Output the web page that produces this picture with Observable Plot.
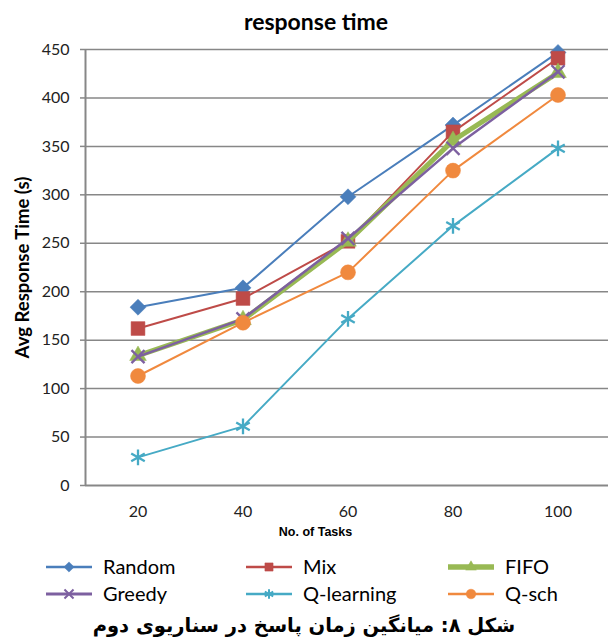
<!DOCTYPE html>
<html><head><meta charset="utf-8">
<script src="https://cdn.jsdelivr.net/npm/d3@7"></script>
<script src="https://cdn.jsdelivr.net/npm/@observablehq/plot@0.6"></script>
<style>
body{margin:0;background:#fff;}
#wrap{position:relative;width:608px;height:639px;overflow:hidden;font-family:Lato,"Open Sans",sans-serif;color:#000;}
#title{position:absolute;top:6px;left:0;width:632px;text-align:center;font-weight:bold;font-size:23px;line-height:30px;}
#chart{position:absolute;top:36px;left:0;}
.leg{position:absolute;font-size:20px;line-height:27px;height:27px;display:flex;align-items:center;white-space:nowrap;}
.leg svg{margin-right:11px;}
#caption{position:absolute;top:612px;left:0;width:608px;text-align:center;direction:rtl;font-family:"DejaVu Sans",sans-serif;font-weight:bold;font-size:19.5px;line-height:28px;}
</style></head>
<body><div id="wrap"><div id="title">response time</div><div id="chart"></div><div id="legend"></div><div id="caption">شکل ۸: میانگین زمان پاسخ در سناریوی دوم</div></div>
<script>
// ---- data ----
const tasks = [20, 40, 60, 80, 100];
const yTicks = [0, 50, 100, 150, 200, 250, 300, 350, 400, 450];
const seriesNames = ["Random", "Mix", "FIFO", "Greedy", "Q-learning", "Q-sch"];
const random    = [184, 204, 298, 372, 447];
const mix       = [162, 193, 252, 365, 441];
const fifo      = [134, 171, 252, 356, 426];
const greedy    = [133, 172, 255, 348, 427];
const qlearning = [29, 61, 172, 268, 348];
const qsch      = [113, 168, 220, 325, 403];

// ---- styles ----
const seriesValues = [random, mix, fifo, greedy, qlearning, qsch];
const colors  = ["#4A7EBB", "#BE4B48", "#98B954", "#7D60A0", "#46AAC5", "#F0893E"];
const symbols = ["diamond2", "square", "triangle", "times", "asterisk", "circle"];
const widths  = [2, 2, 5, 2.5, 2, 2];
const radii   = [7.2, 7.8, 6.2, 6, 7.4, 7.5];
const filled  = [true, true, true, false, false, true];

const marks = [
  Plot.gridY(yTicks.slice(1), {stroke: "#878787", strokeOpacity: 1, strokeWidth: 1.5}),
  Plot.ruleX([10], {stroke: "#878787", strokeWidth: 2}),
  Plot.ruleY([0], {stroke: "#878787", strokeWidth: 2}),
  Plot.axisY(yTicks, {tickSize: 5, tickPadding: 11, fontSize: 16, stroke: "#878787", strokeWidth: 1.5, fill: "#222", label: null}),
  Plot.axisX(tasks, {tickSize: 0, tickPadding: 20, fontSize: 16, fill: "#222", label: null}),
  Plot.text(["No. of Tasks"], {frameAnchor: "bottom-left", dx: 230, dy: 46, textAnchor: "middle", lineAnchor: "middle", fontSize: 12.5, fontWeight: "bold", fontFamily: "Liberation Sans, Arial, sans-serif", fill: "#000"}),
  Plot.text(["Avg Response Time (s)"], {frameAnchor: "left", dx: -62, rotate: -90, textAnchor: "middle", lineAnchor: "middle", fontSize: 18.5, fontWeight: "bold", fill: "#000"})
];

seriesNames.forEach((name, i) => {
  const rows = tasks.map((t, j) => ({series: name, task: t, value: seriesValues[i][j]}));
  marks.push(Plot.line(rows, {x: "task", y: "value", stroke: colors[i], strokeWidth: widths[i]}));
  marks.push(Plot.dot(rows, filled[i]
    ? {x: "task", y: "value", symbol: () => symbols[i], r: radii[i], fill: colors[i], stroke: colors[i], strokeWidth: 0.5}
    : {x: "task", y: "value", symbol: () => symbols[i], r: radii[i], fill: "none", stroke: colors[i], strokeWidth: 2.3}));
});

const chart = Plot.plot({
  width: 608,
  height: 510,
  marginTop: 13,
  marginBottom: 61,
  marginLeft: 85,
  marginRight: 0,
  style: {fontFamily: "Lato, 'Open Sans', sans-serif", background: "#fff"},
  x: {type: "linear", domain: [10, 110], range: [85, 610]},
  y: {domain: [0, 450]},
  symbol: {domain: symbols, range: symbols},
  marks
});
document.getElementById("chart").appendChild(chart);

// ---- legend ----
const legendPos = [[46, 553], [246, 553], [448, 553], [46, 580], [246, 580], [448, 580]];
const symMap = {diamond2: d3.symbolDiamond2, square: d3.symbolSquare, triangle: d3.symbolTriangle, times: d3.symbolTimes, asterisk: d3.symbolAsterisk, circle: d3.symbolCircle};
const legendR = [4.6, 4.6, 4.0, 4.2, 4.6, 4.8];
const legend = document.getElementById("legend");
seriesNames.forEach((name, i) => {
  const div = document.createElement("div");
  div.className = "leg";
  div.style.left = legendPos[i][0] + "px";
  div.style.top = legendPos[i][1] + "px";
  const svg = d3.create("svg").attr("width", 46).attr("height", 16);
  svg.append("line").attr("x1", 0).attr("x2", 46).attr("y1", 8).attr("y2", 8)
    .attr("stroke", colors[i]).attr("stroke-width", widths[i] + 0.5).attr("stroke-linecap", i === 2 ? "round" : "butt");
  const p = d3.symbol(symMap[symbols[i]], Math.PI * legendR[i] * legendR[i])();
  svg.append("path").attr("d", p).attr("transform", "translate(23,8)")
    .attr("fill", filled[i] ? colors[i] : "none").attr("stroke", colors[i]).attr("stroke-width", filled[i] ? 0.5 : 2);
  div.appendChild(svg.node());
  const span = document.createElement("span");
  span.textContent = name;
  div.appendChild(span);
  legend.appendChild(div);
});
</script>
</body></html>
